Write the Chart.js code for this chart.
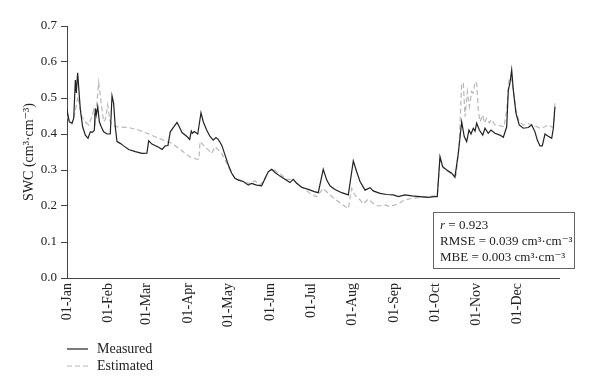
<!DOCTYPE html>
<html><head><meta charset="utf-8">
<script src="https://cdn.jsdelivr.net/npm/chart.js@4.4.0/dist/chart.umd.min.js"></script>
<style>html,body{margin:0;padding:0;background:#fff;}#wrap{width:600px;height:391px;position:relative;}</style>
</head><body><div id="wrap"><canvas id="c" width="600" height="391"></canvas></div>
<script>
// ---- data ----
const monthStartDays = [0,31,59,90,120,151,181,212,243,273,304,334];
const monthLabels = ['01-Jan','01-Feb','01-Mar','01-Apr','01-May','01-Jun','01-Jul','01-Aug','01-Sep','01-Oct','01-Nov','01-Dec'];
const yTickValues = [0,0.1,0.2,0.3,0.4,0.5,0.6,0.7];
const seriesNames = ['Measured','Estimated'];
const yAxisTitle = 'SWC (cm\u00B3\u00B7cm\u207B\u00B3)';
const statR = '0.923';
const statRMSE = '0.039';
const statMBE = '0.003';

const measuredDays = [0,1.7,3.7,5,6.2,6.9,7.9,9.9,11.6,13.6,15.6,17.3,19.1,20.3,21,21.7,22.8,24,25.4,27.2,29.7,32.1,33.4,34.6,35.8,37.1,39.5,42,45.8,50.7,55.6,59.3,60.6,63,68,70.5,72.9,74.9,76.6,79.2,81.6,83.3,85.3,89,91,92.2,93,94.4,96.2,97,99.4,101.1,103.6,106.1,108.5,110.5,112.2,114.8,117.2,119.7,122.2,124.6,127.1,130.8,134.5,137,140.7,144.4,146.4,149.3,151.9,154.3,158,161.7,165.4,167.9,170.4,174.1,179,183.5,186.4,190.1,192.7,195.1,198.8,203.8,208.7,212.4,214.9,217.4,221.1,224.8,227.2,232.2,237.2,242.1,245.8,250.7,255.7,261.9,268,272.5,274.7,276.7,278.7,281.7,285.4,287.8,290.3,292.8,294.7,296.5,298.2,299.7,301.4,302.7,303.9,305.9,308.4,310.1,312.5,314.5,317.5,321.2,323.7,326.2,327.4,328.6,329.9,331.1,333.1,335.5,338.5,342.2,344.7,347.2,348.9,350.9,352.6,354.6,357,359.6,360.8,362];
const measuredSWC = [0.467,0.434,0.43,0.444,0.55,0.514,0.57,0.467,0.42,0.397,0.388,0.406,0.405,0.411,0.471,0.453,0.476,0.434,0.42,0.406,0.40,0.40,0.506,0.485,0.42,0.379,0.374,0.367,0.357,0.351,0.346,0.347,0.381,0.372,0.363,0.357,0.367,0.368,0.406,0.42,0.432,0.42,0.404,0.393,0.385,0.408,0.402,0.407,0.402,0.40,0.459,0.434,0.411,0.393,0.383,0.39,0.385,0.369,0.342,0.314,0.291,0.277,0.272,0.268,0.258,0.263,0.258,0.256,0.272,0.295,0.302,0.293,0.283,0.274,0.265,0.274,0.263,0.252,0.246,0.24,0.237,0.302,0.272,0.256,0.246,0.237,0.231,0.325,0.295,0.268,0.244,0.251,0.242,0.235,0.232,0.231,0.226,0.231,0.228,0.226,0.224,0.226,0.226,0.337,0.309,0.30,0.291,0.28,0.346,0.434,0.393,0.379,0.411,0.40,0.416,0.408,0.43,0.411,0.397,0.416,0.402,0.411,0.402,0.397,0.391,0.42,0.522,0.541,0.578,0.522,0.457,0.425,0.416,0.418,0.425,0.406,0.383,0.367,0.367,0.40,0.394,0.388,0.416,0.476];

const estimatedDays = [0,1.3,3.7,5.9,8.2,11.1,13.6,16.1,18,19.8,21,23.5,25.4,27.2,28.4,30.2,31.7,33.4,37.1,45.8,53.2,60.6,68,74.2,77.9,82.9,87.8,91,96.2,97.9,98.7,101.1,104.8,107.3,109.8,112.2,114.8,117.2,119.7,122.2,124.6,128.4,132.1,135.8,139.5,143.2,146.4,149.3,152.3,155.6,159.3,163,166.2,169.1,172.8,176.6,180.3,183.5,185.3,190.1,193.8,198.8,203.8,208.7,211.2,213.6,217.4,219.8,223.5,227.2,230.9,235.9,239.6,243.3,247,250.7,255.7,261.9,268,272.5,274.7,276.7,279.2,282.9,286.6,288.6,291,292.8,294,295.3,297,298.5,300.2,301.4,302.7,303.9,305.1,306.4,308.4,309.6,311.3,313.3,315,317.5,321.2,324.2,326.2,327.9,329.2,331.1,333.1,335.5,338.5,342.2,344.7,347.2,350.9,354.6,357,359.6,360.8,362];
const estimatedSWC = [0.45,0.439,0.428,0.46,0.504,0.448,0.434,0.425,0.444,0.467,0.434,0.543,0.485,0.434,0.44,0.481,0.439,0.425,0.42,0.418,0.411,0.40,0.388,0.379,0.374,0.36,0.346,0.337,0.33,0.33,0.379,0.369,0.356,0.346,0.365,0.356,0.346,0.328,0.309,0.291,0.277,0.272,0.265,0.263,0.27,0.258,0.274,0.295,0.305,0.295,0.286,0.274,0.274,0.268,0.256,0.246,0.235,0.228,0.226,0.249,0.235,0.219,0.205,0.193,0.249,0.231,0.217,0.206,0.219,0.207,0.20,0.203,0.198,0.203,0.209,0.217,0.221,0.224,0.226,0.228,0.229,0.328,0.305,0.295,0.286,0.286,0.374,0.541,0.541,0.448,0.518,0.476,0.518,0.514,0.545,0.541,0.467,0.434,0.453,0.431,0.444,0.431,0.44,0.425,0.423,0.42,0.467,0.55,0.559,0.522,0.467,0.434,0.425,0.429,0.425,0.423,0.416,0.42,0.425,0.42,0.42,0.485];

// ---- chart ----
const FONT = "'Liberation Serif', 'DejaVu Serif', serif";
const AXIS = '#444';
const toPoints = (xs, ys) => xs.map((x, i) => ({x: x, y: ys[i]}));

const legendPlugin = {
  id: 'vlegend',
  afterDraw(chart) {
    const ctx = chart.ctx;
    ctx.save();
    ctx.font = '14px ' + FONT;
    ctx.textBaseline = 'middle';
    chart.data.datasets.forEach((ds, i) => {
      const y = 349 + i * 17;
      ctx.strokeStyle = ds.borderColor;
      ctx.lineWidth = ds.borderWidth;
      ctx.setLineDash(ds.borderDash || []);
      ctx.beginPath(); ctx.moveTo(67, y); ctx.lineTo(88, y); ctx.stroke();
      ctx.setLineDash([]);
      ctx.fillStyle = '#222';
      ctx.fillText(ds.label, 97, y);
    });
    ctx.restore();
  }
};

const statsPlugin = {
  id: 'stats',
  afterDraw(chart) {
    const ctx = chart.ctx;
    ctx.save();
    ctx.strokeStyle = '#666';
    ctx.lineWidth = 1;
    ctx.strokeRect(433.5, 212.5, 141, 56);
    ctx.fillStyle = '#222';
    ctx.textBaseline = 'alphabetic';
    const x0 = 440;
    ctx.font = 'italic 13px ' + FONT;
    ctx.fillText('r', x0, 229);
    let w = ctx.measureText('r').width;
    ctx.font = '13px ' + FONT;
    ctx.fillText(' = ' + statR, x0 + w, 229);
    ctx.fillText('RMSE = ' + statRMSE + ' cm\u00B3\u00B7cm\u207B\u00B3', x0, 245);
    ctx.fillText('MBE = ' + statMBE + ' cm\u00B3\u00B7cm\u207B\u00B3', x0, 261);
    ctx.restore();
  }
};

new Chart(document.getElementById('c'), {
  type: 'line',
  data: {
    datasets: [
      { label: seriesNames[0], data: toPoints(measuredDays, measuredSWC), borderColor: '#222', borderWidth: 1.2, pointRadius: 0, tension: 0, fill: false },
      { label: seriesNames[1], data: toPoints(estimatedDays, estimatedSWC), borderColor: '#b8b8b8', borderWidth: 1.2, borderDash: [5, 3], pointRadius: 0, tension: 0, fill: false }
    ]
  },
  options: {
    responsive: false,
    animation: false,
    devicePixelRatio: 1,
    layout: { padding: { left: 21, top: 26, right: 41, bottom: 0 } },
    plugins: { legend: { display: false }, tooltip: { enabled: false } },
    scales: {
      x: {
        type: 'linear', min: 0, max: 365,
        afterBuildTicks: s => { s.ticks = monthStartDays.map(v => ({ value: v })); },
        afterFit: s => { s.height = 113; },
        grid: { display: false, drawTicks: false },
        border: { display: true, color: AXIS, width: 1 },
        ticks: {
          minRotation: 90, maxRotation: 90, autoSkip: false, padding: 5,
          color: '#222', font: { family: FONT, size: 14 },
          callback: v => monthLabels[monthStartDays.indexOf(v)]
        }
      },
      y: {
        min: 0, max: 0.7,
        afterBuildTicks: s => { s.ticks = yTickValues.map(v => ({ value: v })); },
        afterFit: s => { s.width = 46; },
        grid: { display: true, drawOnChartArea: false, drawTicks: true, tickLength: 6, color: AXIS },
        border: { display: true, color: AXIS, width: 1 },
        ticks: { color: '#222', padding: 4, font: { family: FONT, size: 13 }, callback: v => v.toFixed(1) },
        title: { display: true, text: yAxisTitle, color: '#222', font: { family: FONT, size: 14 }, padding: { top: 0, bottom: 2 } }
      }
    }
  },
  plugins: [legendPlugin, statsPlugin]
});
</script></body></html>
